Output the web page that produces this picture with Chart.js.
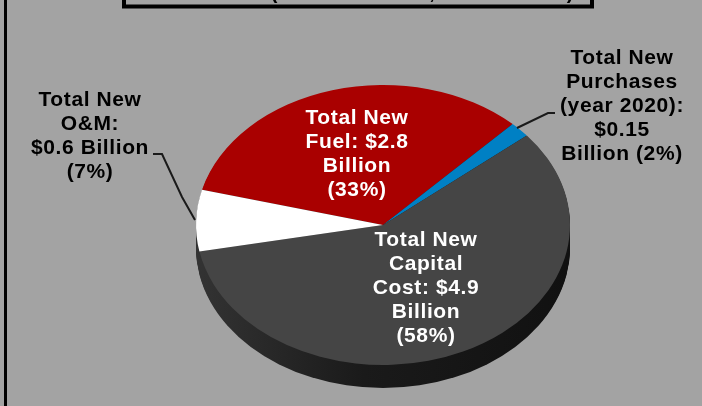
<!DOCTYPE html>
<html>
<head>
<meta charset="utf-8">
<script src="https://cdn.jsdelivr.net/npm/chart.js@4"></script>
<style>
  html, body { margin: 0; padding: 0; background: #a3a3a3; overflow: hidden; }
  #wrap { position: relative; width: 702px; height: 406px; }
</style>
</head>
<body>
<div id="wrap"><canvas id="pie" width="702" height="406"></canvas></div>
<script>
// slices clockwise, starting from the red one
var categories = ["Total New Fuel", "Total New Purchases", "Total New Capital Cost", "Total New O&M"];
var billions = [2.8, 0.15, 4.9, 0.6];
var sliceColors = ["#a90000", "#0080c4", "#454545", "#ffffff"];

var fuelLabel = ["Total New", "Fuel: $2.8", "Billion", "(33%)"];
var capitalLabel = ["Total New", "Capital", "Cost: $4.9", "Billion", "(58%)"];
var omLabel = ["Total New", "O&M:", "$0.6 Billion", "(7%)"];
var purchasesLabel = ["Total New", "Purchases", "(year 2020):", "$0.15", "Billion (2%)"];

var squash = 187 / 140; // pie is wider than tall
var rimDepth = 23;

function putLines(ctx, lines, x, y, color) {
  ctx.fillStyle = color;
  lines.forEach(function(line, i) {
    ctx.fillText(line, x, y + i * 24);
  });
}

function leader(ctx, pts) {
  ctx.beginPath();
  ctx.moveTo(pts[0][0], pts[0][1]);
  for (var i = 1; i < pts.length; i++) ctx.lineTo(pts[i][0], pts[i][1]);
  ctx.stroke();
}

// frame and the cut-off title box above the pie
var framePlugin = {
  id: "frame",
  beforeDraw: function(chart) {
    var ctx = chart.ctx;
    ctx.save();
    ctx.fillStyle = "#a3a3a3";
    ctx.fillRect(0, 0, 702, 406);
    ctx.fillStyle = "#000";
    ctx.fillRect(4, 0, 3, 406);
    ctx.strokeStyle = "#000";
    ctx.lineWidth = 4;
    ctx.beginPath();
    ctx.moveTo(124, 0);
    ctx.lineTo(124, 6.5);
    ctx.lineTo(592, 6.5);
    ctx.lineTo(592, 0);
    ctx.stroke();
    ctx.font = "bold 20px 'Liberation Sans'";
    ctx.textAlign = "center";
    ctx.fillText("(", 274, -1);
    ctx.fillText(",", 432, -1);
    ctx.fillText(")", 570, -1);
    ctx.restore();
  }
};

// stretches the pie sideways and puts the dark rim under it
var ellipsePlugin = {
  id: "ellipse",
  beforeDatasetsDraw: function(chart) {
    var arc = chart.getDatasetMeta(0).data[0];
    var ctx = chart.ctx;
    var cx = arc.x, cy = arc.y, r = arc.outerRadius;
    ctx.save();
    var grad = ctx.createLinearGradient(cx - r * squash, 0, cx + r * squash, 0);
    grad.addColorStop(0, "#333333");
    grad.addColorStop(0.45, "#1a1a1a");
    grad.addColorStop(1, "#111111");
    ctx.fillStyle = grad;
    for (var d = rimDepth; d > 0; d--) {
      ctx.beginPath();
      ctx.ellipse(cx, cy + d, r * squash, r, 0, 0, Math.PI * 2);
      ctx.fill();
    }
    ctx.translate(cx, cy);
    ctx.scale(squash, 1);
    ctx.translate(-cx, -cy);
  },
  afterDatasetsDraw: function(chart) {
    chart.ctx.restore();
  }
};

var labelPlugin = {
  id: "sliceLabels",
  afterDraw: function(chart) {
    var ctx = chart.ctx;
    ctx.save();
    ctx.font = "bold 21px 'Liberation Sans'";
    ctx.textAlign = "center";
    ctx.textBaseline = "alphabetic";
    ctx.letterSpacing = "0.6px";
    putLines(ctx, fuelLabel, 357, 124, "#ffffff");
    putLines(ctx, capitalLabel, 426, 246, "#ffffff");
    putLines(ctx, omLabel, 90, 106, "#000000");
    putLines(ctx, purchasesLabel, 622, 64, "#000000");
    ctx.strokeStyle = "#1a1a1a";
    ctx.lineWidth = 2;
    leader(ctx, [[153, 154], [162, 154], [182, 197], [195, 220]]);
    leader(ctx, [[555, 113], [548, 113], [517, 128]]);
    ctx.restore();
  }
};

new Chart(document.getElementById("pie"), {
  type: "pie",
  data: {
    labels: categories,
    datasets: [{
      data: billions,
      backgroundColor: sliceColors,
      borderWidth: 0
    }]
  },
  options: {
    responsive: false,
    animation: false,
    rotation: -75.4,
    layout: { padding: { left: 243, right: 179, top: 85, bottom: 41 } },
    plugins: { legend: { display: false }, tooltip: { enabled: false } }
  },
  plugins: [framePlugin, ellipsePlugin, labelPlugin]
});
</script>
</body>
</html>
